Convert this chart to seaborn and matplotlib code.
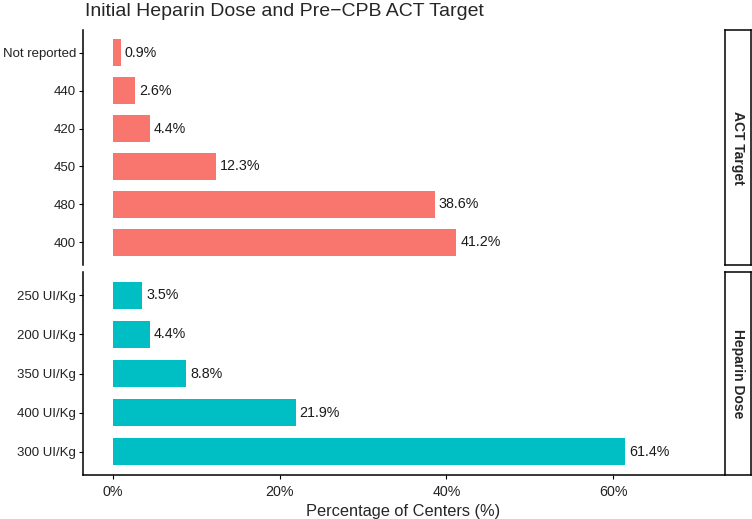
import pandas as pd
import matplotlib
matplotlib.use('Agg')
import matplotlib.pyplot as plt
import seaborn as sns
from matplotlib.ticker import FuncFormatter

# data (top to bottom inside each panel)
act_labels = ['Not reported', '440', '420', '450', '480', '400']
act_values = [0.9, 2.6, 4.4, 12.3, 38.6, 41.2]
dose_labels = ['250 UI/Kg', '200 UI/Kg', '350 UI/Kg', '400 UI/Kg', '300 UI/Kg']
dose_values = [3.5, 4.4, 8.8, 21.9, 61.4]
x_ticks = [0, 20, 40, 60]

act = pd.DataFrame({'label': act_labels, 'pct': act_values})
dose = pd.DataFrame({'label': dose_labels, 'pct': dose_values})

sns.set_theme(style='white')
plt.rcParams['font.family'] = ['Liberation Sans', 'DejaVu Sans']

W, H = 752, 519
fig = plt.figure(figsize=(W / 100, H / 100), dpi=100)

def box(x0, y0, x1, y1):
    # pixel box -> figure fraction
    return [x0 / W, 1 - y1 / H, (x1 - x0) / W, (y1 - y0) / H]

ax1 = fig.add_axes(box(83, 30, 724, 265))
ax2 = fig.add_axes(box(83, 272, 724, 475))
s1 = fig.add_axes(box(725, 30, 751, 265))
s2 = fig.add_axes(box(725, 272, 751, 475))

panels = [(ax1, act, '#F8766D', s1, 'ACT Target'),
          (ax2, dose, '#00BFC4', s2, 'Heparin Dose')]

for ax, df, col, strip, name in panels:
    sns.barplot(data=df, x='pct', y='label', color=col, width=0.7,
                saturation=1, linewidth=0, ax=ax)
    ax.bar_label(ax.containers[0], labels=[f'{v:.1f}%' for v in df['pct']],
                 padding=3, fontsize=10.3, color='#1a1a1a')
    ax.set_xlim(-3.6, 73.3)
    n = len(df)
    ax.set_ylim(n - 1 + 0.6, -0.6)
    ax.set_ylabel('')
    ax.set_xlabel('')
    for sp in ['top', 'right']:
        ax.spines[sp].set_visible(False)
    ax.spines['left'].set_color('black')
    ax.spines['left'].set_linewidth(1.1)
    ax.tick_params(axis='y', left=True, length=3, width=0.8, color='black',
                   labelsize=9.5, labelcolor='#222222', pad=2)
    # strip on the right
    strip.set_xticks([])
    strip.set_yticks([])
    for sp in strip.spines.values():
        sp.set_visible(True)
        sp.set_color('black')
        sp.set_linewidth(1.1)
    strip.set_facecolor('white')
    strip.text(0.5, 0.5, name, rotation=270, ha='center', va='center',
               fontsize=10, fontweight='bold', transform=strip.transAxes)

ax1.spines['bottom'].set_visible(False)
ax1.set_xticks([])
ax2.spines['bottom'].set_color('black')
ax2.spines['bottom'].set_linewidth(1.1)
ax2.set_xticks(x_ticks)
ax2.xaxis.set_major_formatter(FuncFormatter(lambda v, p: f'{v:.0f}%'))
ax2.tick_params(axis='x', bottom=True, length=3, width=0.8, color='black',
                labelsize=10.3, labelcolor='#222222', pad=4)
ax2.set_xlabel('Percentage of Centers (%)', fontsize=11.8, labelpad=4)

fig.text(85 / W, 1 - 12 / H, 'Initial Heparin Dose and Pre\u2212CPB ACT Target',
         ha='left', va='center', fontsize=14)

fig.savefig('out.png', dpi=100)
